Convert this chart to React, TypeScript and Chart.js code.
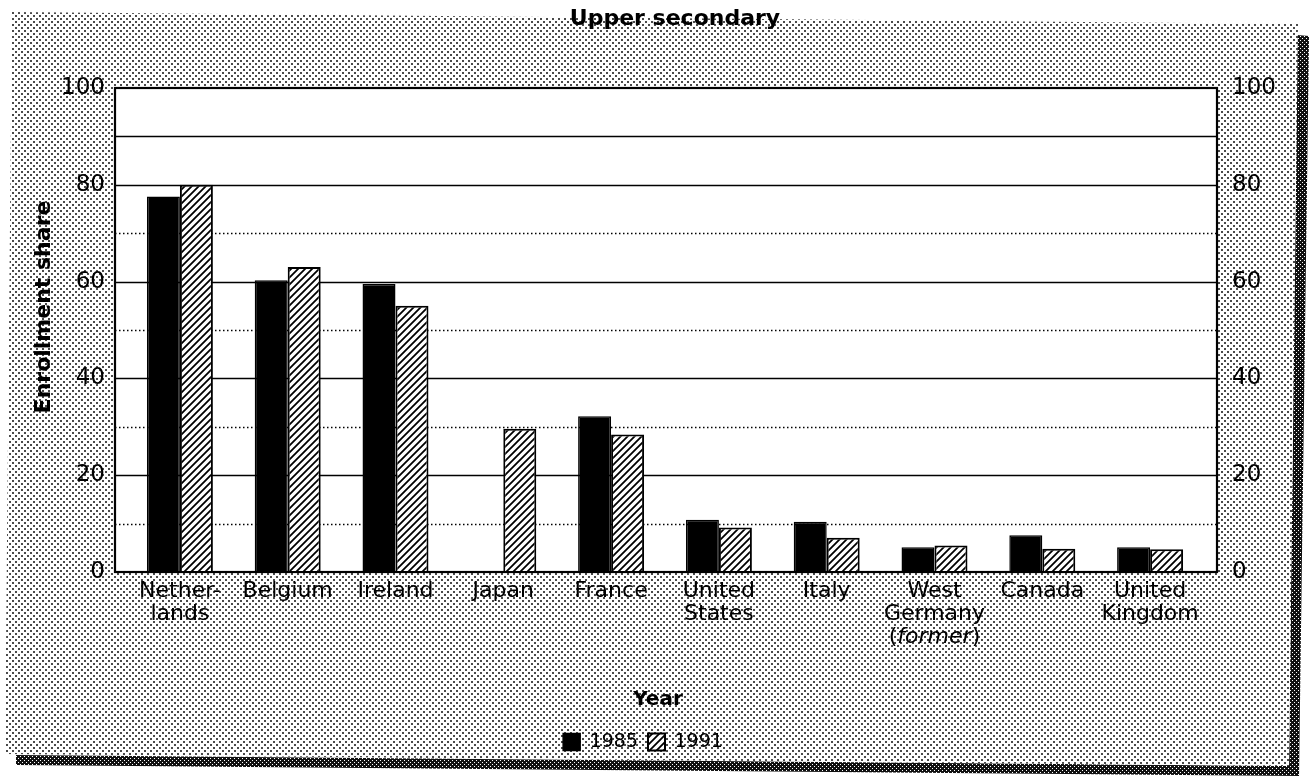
import React, { useEffect, useRef } from "react";
import { Chart, registerables } from "chart.js";

Chart.register(...registerables);

// ---- data ----
const categories: string[][] = [
  ["Nether-", "lands"],
  ["Belgium"],
  ["Ireland"],
  ["Japan"],
  ["France"],
  ["United", "States"],
  ["Italy"],
  ["West", "Germany", "(former)"],
  ["Canada"],
  ["United", "Kingdom"],
];
const seriesLabels = ["1985", "1991"];
const values1985: (number | null)[] = [77.6, 60.3, 59.5, null, 32.2, 10.8, 10.4, 5.1, 7.6, 5.1];
const values1991: (number | null)[] = [80, 63, 55, 29.6, 28.4, 9.2, 7.1, 5.5, 4.8, 4.7];
const yTickValues = [0, 20, 40, 60, 80, 100];
const solidGridValues = [20, 40, 60, 80, 90];
const dottedGridValues = [10, 30, 50, 70];
const chartTitle = "Upper secondary";
const yAxisTitle = "Enrollment share";
const legendTitle = "Year";

const FONT = "'DejaVu Sans', 'Noto Sans', sans-serif";

function makeHatch(): CanvasPattern | string {
  const s = 7;
  const p = document.createElement("canvas");
  p.width = s;
  p.height = s;
  const c = p.getContext("2d");
  if (!c) return "#fff";
  c.fillStyle = "#fff";
  c.fillRect(0, 0, s, s);
  c.strokeStyle = "#000";
  c.lineWidth = 1.8;
  c.beginPath();
  c.moveTo(-1, s + 1);
  c.lineTo(s + 1, -1);
  c.moveTo(-2, 2);
  c.lineTo(2, -2);
  c.moveTo(s - 2, s + 2);
  c.lineTo(s + 2, s - 2);
  c.stroke();
  return c.createPattern(p, "repeat") || "#fff";
}

function makeStipple(): CanvasPattern | string {
  const p = document.createElement("canvas");
  p.width = 6;
  p.height = 6;
  const c = p.getContext("2d");
  if (!c) return "#ccc";
  c.fillStyle = "#fff";
  c.fillRect(0, 0, 6, 6);
  c.fillStyle = "#4a4a4a";
  c.fillRect(0, 0, 2, 2);
  c.fillRect(3, 3, 2, 2);
  return c.createPattern(p, "repeat") || "#ccc";
}

function makeDark(): CanvasPattern | string {
  const p = document.createElement("canvas");
  p.width = 4;
  p.height = 4;
  const c = p.getContext("2d");
  if (!c) return "#333";
  c.fillStyle = "#111";
  c.fillRect(0, 0, 4, 4);
  c.fillStyle = "#fff";
  c.fillRect(0, 0, 1, 1);
  c.fillRect(2, 2, 1, 1);
  return c.createPattern(p, "repeat") || "#333";
}

export default function App() {
  const ref = useRef<HTMLCanvasElement | null>(null);

  useEffect(() => {
    const canvas = ref.current;
    if (!canvas) return;
    const hatch = makeHatch();
    const stipple = makeStipple();
    const dark = makeDark();

    const backgroundPlugin = {
      id: "paperBackground",
      beforeDraw(chart: any) {
        const ctx = chart.ctx as CanvasRenderingContext2D;
        ctx.save();
        ctx.fillStyle = "#fff";
        ctx.fillRect(0, 0, chart.width, chart.height);
        // shadow
        ctx.fillStyle = dark as any;
        ctx.beginPath();
        ctx.moveTo(1297, 35);
        ctx.lineTo(1309, 36);
        ctx.lineTo(1299, 776);
        ctx.lineTo(16, 765);
        ctx.lineTo(16, 755);
        ctx.lineTo(1289, 766);
        ctx.closePath();
        ctx.fill();
        // stippled panel
        ctx.fillStyle = stipple as any;
        ctx.beginPath();
        ctx.moveTo(12, 12);
        ctx.lineTo(1298, 24);
        ctx.lineTo(1289, 766);
        ctx.lineTo(5, 754);
        ctx.closePath();
        ctx.fill();
        ctx.restore();
      },
    };

    const framePlugin = {
      id: "plotFrame",
      beforeDatasetsDraw(chart: any) {
        const ctx = chart.ctx as CanvasRenderingContext2D;
        const { left, right } = chart.chartArea;
        const y = chart.scales.y;
        const fl = left - 11;
        const fr = right + 13;
        const top = y.getPixelForValue(100);
        const bottom = y.getPixelForValue(0);
        ctx.save();
        ctx.fillStyle = "#fff";
        ctx.fillRect(fl, top, fr - fl, bottom - top);
        ctx.strokeStyle = "#000";
        ctx.lineWidth = 1.6;
        ctx.setLineDash([]);
        solidGridValues.forEach((v) => {
          const py = Math.round(y.getPixelForValue(v)) + 0.5;
          ctx.beginPath();
          ctx.moveTo(fl, py);
          ctx.lineTo(fr, py);
          ctx.stroke();
        });
        ctx.lineWidth = 1.4;
        ctx.setLineDash([1.5, 2.5]);
        dottedGridValues.forEach((v) => {
          const py = Math.round(y.getPixelForValue(v)) + 0.5;
          ctx.beginPath();
          ctx.moveTo(fl, py);
          ctx.lineTo(fr, py);
          ctx.stroke();
        });
        ctx.setLineDash([]);
        ctx.lineWidth = 2.2;
        ctx.strokeRect(fl, top, fr - fl, bottom - top);
        ctx.restore();
      },
      afterDatasetsDraw(chart: any) {
        const ctx = chart.ctx as CanvasRenderingContext2D;
        const x = chart.scales.x;
        const y = chart.scales.y;
        const bottom = y.getPixelForValue(0);
        ctx.save();
        ctx.strokeStyle = "#000";
        ctx.lineWidth = 2.2;
        ctx.beginPath();
        ctx.moveTo(chart.chartArea.left - 11, bottom);
        ctx.lineTo(chart.chartArea.right + 13, bottom);
        ctx.stroke();
        // main title
        ctx.fillStyle = "#000";
        ctx.font = `bold 22px ${FONT}`;
        ctx.textAlign = "center";
        ctx.textBaseline = "middle";
        ctx.fillText(chartTitle, 675, 19);
        // category labels
        const size = 22;
        categories.forEach((lines, i) => {
          const cx = x.getPixelForValue(i);
          lines.forEach((line, j) => {
            const ly = bottom + 19 + j * 23;
            const m = /^\((.*)\)$/.exec(line);
            if (m) {
              const reg = `${size}px ${FONT}`;
              const ita = `italic ${size}px ${FONT}`;
              ctx.font = reg;
              const wp = ctx.measureText("(").width;
              const wq = ctx.measureText(")").width;
              ctx.font = ita;
              const wi = ctx.measureText(m[1]).width;
              let sx = cx - (wp + wi + wq) / 2;
              ctx.textAlign = "left";
              ctx.font = reg;
              ctx.fillText("(", sx, ly);
              sx += wp;
              ctx.font = ita;
              ctx.fillText(m[1], sx, ly);
              sx += wi;
              ctx.font = reg;
              ctx.fillText(")", sx, ly);
            } else {
              ctx.font = `${size}px ${FONT}`;
              ctx.textAlign = "center";
              ctx.fillText(line, cx, ly);
            }
          });
        });
        // legend heading
        ctx.font = `bold 20px ${FONT}`;
        ctx.textAlign = "center";
        ctx.textBaseline = "middle";
        ctx.fillText(legendTitle, 658, 700);
        // y axis title
        ctx.translate(44, 307);
        ctx.rotate(-Math.PI / 2);
        ctx.font = `bold 22px ${FONT}`;
        ctx.textAlign = "center";
        ctx.textBaseline = "middle";
        ctx.fillText(yAxisTitle, 0, 0);
        ctx.restore();
      },
    };

    const yTicksCfg = (pad: number) => ({
      color: "#000",
      font: { family: FONT, size: 23 },
      padding: pad,
    });

    const chart = new Chart(canvas, {
      type: "bar",
      data: {
        labels: categories.map((l) => l.join(" ")),
        datasets: [
          {
            label: seriesLabels[0],
            data: values1985,
            backgroundColor: "#000",
            borderColor: "#000",
            borderWidth: 1.5,
            borderSkipped: "start",
          },
          {
            label: seriesLabels[1],
            data: values1991,
            backgroundColor: hatch as any,
            borderColor: "#000",
            borderWidth: 2,
            borderSkipped: "start",
          },
        ],
      },
      options: {
        animation: false,
        responsive: false,
        maintainAspectRatio: false,
        events: [],
        datasets: {
          bar: { categoryPercentage: 0.612, barPercentage: 1 },
        },
        layout: { padding: { left: 0, right: 24, top: 88, bottom: 17.5 } },
        plugins: {
          title: { display: false },
          legend: {
            position: "bottom",
            labels: {
              color: "#000",
              font: { family: FONT, size: 19 },
              boxWidth: 17,
              boxHeight: 17,
              padding: 10,
            },
          },
          tooltip: { enabled: false },
        },
        scales: {
          x: {
            type: "category",
            offset: true,
            grid: { display: false },
            border: { display: false },
            ticks: { display: false },
            afterFit: (s: any) => {
              s.height = 150.5;
            },
          },
          y: {
            position: "left",
            min: 0,
            max: 100,
            grid: { display: false, drawTicks: false },
            border: { display: false },
            ticks: yTicksCfg(21),
            afterBuildTicks: (s: any) => {
              s.ticks = yTickValues.map((v) => ({ value: v }));
            },
            afterFit: (s: any) => {
              s.width = 126;
            },
          },
          y2: {
            position: "right",
            min: 0,
            max: 100,
            grid: { display: false, drawTicks: false },
            border: { display: false },
            ticks: yTicksCfg(28),
            afterBuildTicks: (s: any) => {
              s.ticks = yTickValues.map((v) => ({ value: v }));
            },
            afterFit: (s: any) => {
              s.width = 82;
            },
          },
        },
      } as any,
      plugins: [backgroundPlugin, framePlugin],
    });

    return () => {
      chart.destroy();
    };
  }, []);

  return (
    <div style={{ position: "absolute", left: 0, top: 0, width: 1310, height: 779 }}>
      <canvas ref={ref} width={1310} height={779} style={{ display: "block" }} />
    </div>
  );
}
